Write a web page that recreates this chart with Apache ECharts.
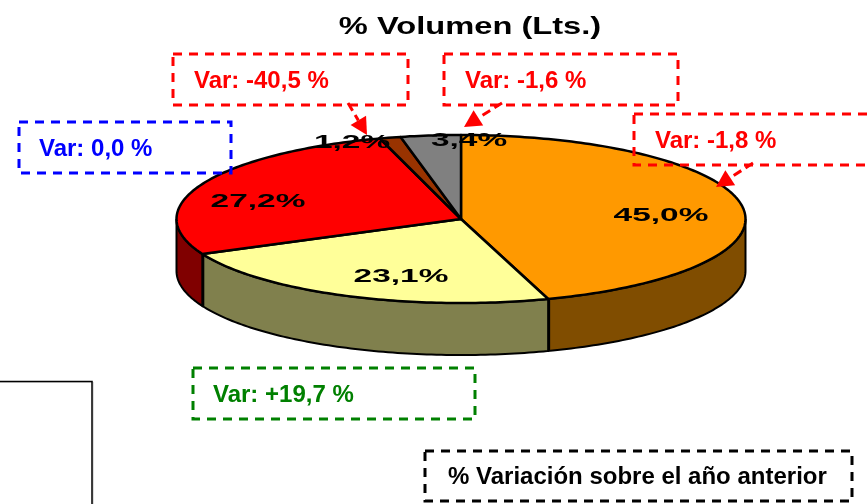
<!DOCTYPE html>
<html>
<head>
<meta charset="utf-8">
<style>
  html, body { margin: 0; padding: 0; background: #fff; }
  #chart { width: 867px; height: 504px; }
</style>
<script src="https://cdn.jsdelivr.net/npm/echarts@6/dist/echarts.min.js"></script>
</head>
<body>
<div id="chart"></div>
<script>
// datos
const sliceValues = [45.0, 23.1, 27.2, 1.2, 3.4]
const sliceColors = ['#ff9900', '#ffff99', '#ff0000', '#993300', '#808080']
const sideColors = ['#804d00', '#80804d', '#800000', '#4d1a00', '#404040']
const varTexts = ['Var: -40,5 %', 'Var: -1,6 %', 'Var: -1,8 %', 'Var: 0,0 %', 'Var: +19,7 %']
const titleText = '% Volumen (Lts.)'
const noteText = '% Variación sobre el año anterior'

// geometria de la elipse
const cx = 461, cy = 219, rx = 284.5, ry = 84, depth = 52
const labelPos = [[661, 216], [401, 277], [258, 202], [352, 143], [469, 141]]

const total = sliceValues.reduce((a, b) => a + b, 0)
let acc = 0
const pieData = sliceValues.map((v) => {
  const row = [v, acc]
  acc += v
  return row
})

function pt(deg, dy) {
  const a = deg * Math.PI / 180
  return [cx + rx * Math.sin(a), cy - ry * Math.cos(a) + (dy || 0)]
}

function arcPts(from, to, dy) {
  const pts = []
  const n = Math.max(2, Math.ceil(Math.abs(to - from)))
  for (let i = 0; i <= n; i++) pts.push(pt(from + (to - from) * i / n, dy))
  return pts
}

function renderSlice(params, api) {
  const from = api.value(1) / total * 360
  const to = from + api.value(0) / total * 360
  const children = []
  // pared lateral, solo la parte de delante
  const wFrom = Math.max(from, 90), wTo = Math.min(to, 270)
  if (wTo > wFrom) {
    children.push({
      type: 'polygon',
      shape: { points: arcPts(wFrom, wTo, 0).concat(arcPts(wTo, wFrom, depth)) },
      style: { fill: sideColors[params.dataIndex], stroke: '#000', lineWidth: 2 }
    })
    if (wTo < 270) {
      children.push({
        type: 'line',
        shape: { x1: pt(wTo)[0], y1: pt(wTo)[1], x2: pt(wTo)[0], y2: pt(wTo)[1] + depth },
        style: { stroke: '#000', lineWidth: 4 }
      })
    }
  }
  children.push({
    type: 'polygon',
    shape: { points: [[cx, cy]].concat(arcPts(from, to, 0)) },
    style: { fill: sliceColors[params.dataIndex], stroke: '#000', lineWidth: 2.5, lineJoin: 'round' }
  })
  return { type: 'group', children: children }
}

function renderLabel(params, api) {
  const p = labelPos[params.dataIndex]
  return {
    type: 'text',
    x: p[0], y: p[1],
    scaleX: 1.76,
    style: {
      text: api.value(0).toFixed(1).replace('.', ',') + '%',
      x: 0, y: 0,
      textAlign: 'center', textVerticalAlign: 'middle',
      font: 'bold 19px "Liberation Sans"',
      fill: '#000'
    }
  }
}

function varBox(x, y, w, h, color, text, tx) {
  return [
    {
      type: 'rect', z: 10, silent: true,
      shape: { x: x, y: y, width: w, height: h },
      style: { fill: 'none', stroke: color, lineWidth: 3, lineDash: [9, 7] }
    },
    {
      type: 'text', z: 12, silent: true,
      style: {
        text: text, x: tx, y: y + h / 2 + 1.5,
        textVerticalAlign: 'middle',
        font: 'bold 24px "Liberation Sans"',
        fill: color
      }
    }
  ]
}

function arrow(x1, y1, x2, y2, color) {
  const a = Math.atan2(y2 - y1, x2 - x1)
  const len = 17, half = 9
  const bx = x2 - len * Math.cos(a), by = y2 - len * Math.sin(a)
  const nx = -Math.sin(a) * half, ny = Math.cos(a) * half
  return [
    {
      type: 'line', z: 10, silent: true,
      shape: { x1: x1, y1: y1, x2: bx, y2: by },
      style: { stroke: color, lineWidth: 3, lineDash: [9, 5] }
    },
    {
      type: 'polygon', z: 10, silent: true,
      shape: { points: [[x2, y2], [bx + nx, by + ny], [bx - nx, by - ny]] },
      style: { fill: color }
    }
  ]
}

const chart = echarts.init(document.getElementById('chart'))
chart.setOption({
  animation: false,
  backgroundColor: '#fff',
  graphic: {
    elements: [
      // recuadro cortado abajo a la izquierda
      {
        type: 'polyline', z: 5, silent: true,
        shape: { points: [[-4, 382], [93, 382], [93, 510]] },
        style: { fill: 'none', stroke: '#bbb', lineWidth: 1 }
      },
      {
        type: 'polyline', z: 6, silent: true,
        shape: { points: [[-4, 381.5], [92, 381.5], [92, 510]] },
        style: { fill: 'none', stroke: '#000', lineWidth: 1.5 }
      },
      {
        type: 'text', z: 12, silent: true,
        x: 470, y: 27, scaleX: 1.36,
        style: {
          text: titleText, x: 0, y: 0,
          textAlign: 'center', textVerticalAlign: 'middle',
          font: 'bold 24px "Liberation Sans"',
          fill: '#000'
        }
      }
    ].concat(
      varBox(173, 54, 235, 51, '#ff0000', varTexts[0], 194),
      varBox(444, 54, 234, 51, '#ff0000', varTexts[1], 465),
      varBox(634, 114, 250, 51, '#ff0000', varTexts[2], 655),
      varBox(19, 122, 212, 51, '#0000ff', varTexts[3], 39),
      varBox(193, 368, 282, 51, '#008000', varTexts[4], 213),
      varBox(425, 451, 427, 50, '#000000', noteText, 448),
      arrow(348, 103, 367, 135, '#ff0000'),
      arrow(502, 103, 464, 127, '#ff0000'),
      arrow(753, 163, 716, 187, '#ff0000')
    )
  },
  series: [
    {
      type: 'custom',
      coordinateSystem: 'none',
      silent: true,
      z: 1,
      data: pieData,
      renderItem: renderSlice
    },
    {
      type: 'custom',
      coordinateSystem: 'none',
      silent: true,
      z: 20,
      data: pieData,
      renderItem: renderLabel
    }
  ]
})
</script>
</body>
</html>
